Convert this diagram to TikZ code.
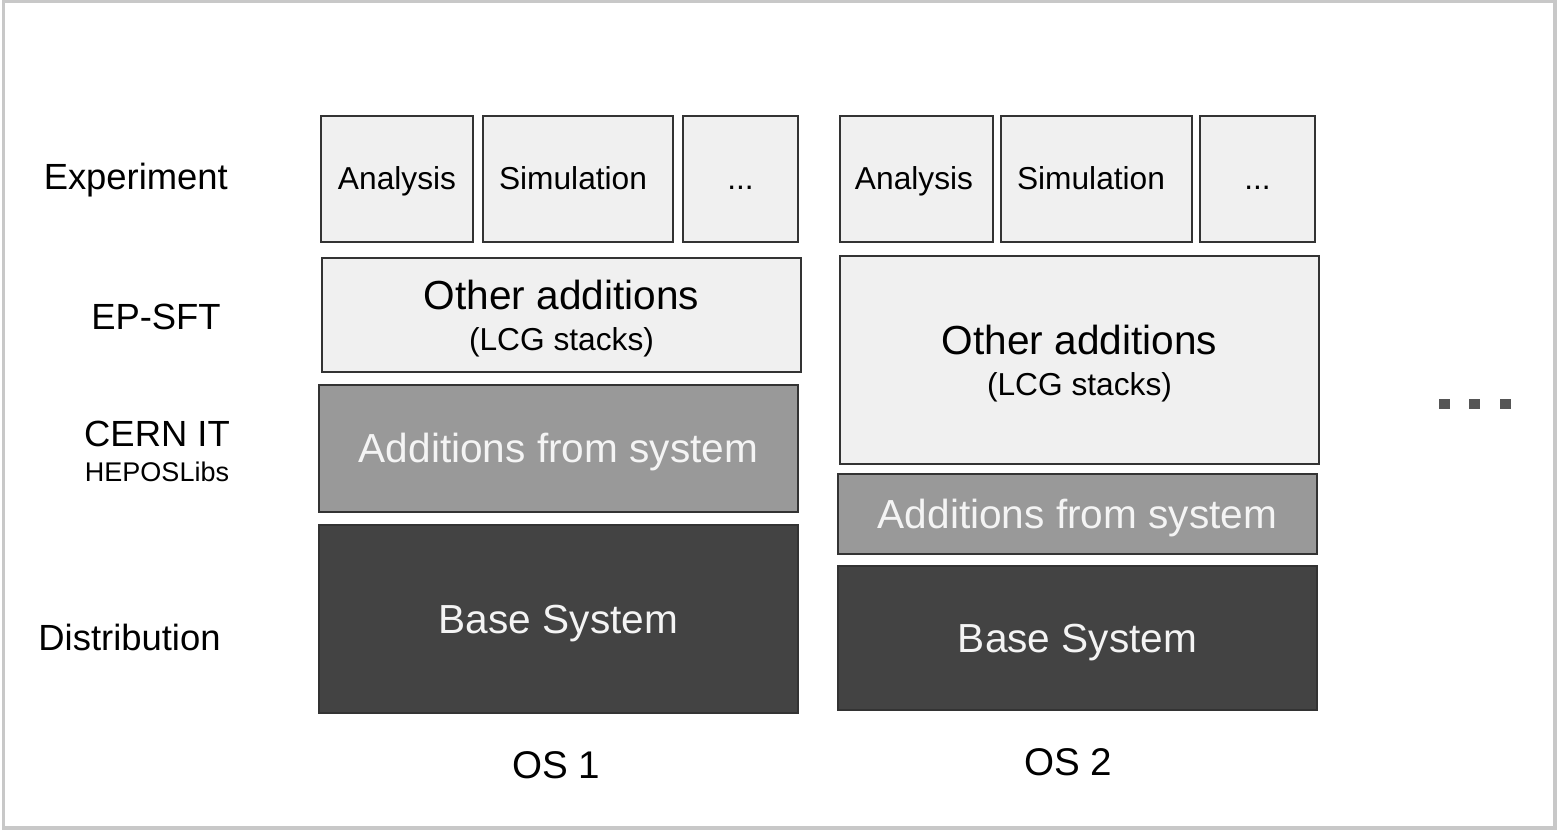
\documentclass[tikz,border=0pt]{standalone}
\usepackage{fontspec}
\setmainfont{Liberation Sans}
\definecolor{boxline}{HTML}{333333}
\definecolor{litefill}{HTML}{F0F0F0}
\definecolor{midfill}{HTML}{999999}
\definecolor{darkfill}{HTML}{434343}
\definecolor{frameline}{HTML}{C8C8C8}
\definecolor{dotfill}{HTML}{555555}
\definecolor{pale}{HTML}{F4F4F4}
\begin{document}
\begin{tikzpicture}[x=0.5pt,y=-0.5pt,
  layer/.style={draw=boxline, line width=1pt, inner sep=0pt, outer sep=0pt, align=center},
  lite/.style={layer, fill=litefill, text=black},
  midl/.style={layer, fill=midfill, text=pale},
  darkl/.style={layer, fill=darkfill, text=pale},
  smalltxt/.style={font=\fontsize{15.85}{19}\selectfont, text height=14.34pt, text depth=3.36pt},
  bigtxt/.style={font=\fontsize{20.3}{20.3}\selectfont, text height=18.37pt, text depth=4.3pt},
  twoline/.style={font=\fontsize{20.3}{20.3}\selectfont, text height=38.67pt, text depth=3.36pt},
  rowlabel/.style={anchor=base, font=\fontsize{18.2}{20}\selectfont, inner sep=0pt},
  oslabel/.style={anchor=base, font=\fontsize{19.3}{22}\selectfont, inner sep=0pt},
  dotsq/.style={fill=dotfill, inner sep=0pt, minimum width=5.5pt, minimum height=5pt}
]
\useasboundingbox (0,0) rectangle (1558,833);
% frame
\fill[frameline] (1.5,0.5) rectangle (1557,830);
\fill[white] (5,3.5) rectangle (1553,825.5);

% OS 1 column
\node[lite, smalltxt, minimum width=76pt, minimum height=63pt] (a1) at (397,179) {Analysis};
\node[lite, smalltxt, minimum width=95pt, minimum height=63pt] (s1) at (578,179) {Simulation\hspace*{5pt}};
\node[lite, smalltxt, minimum width=57.5pt, minimum height=63pt] (d1) at (740.5,179) {...};
\node[lite, twoline, minimum width=239.5pt, minimum height=57pt] (o1) at (561.5,315) {Other additions\\{\fontsize{15.85}{19}\selectfont (LCG stacks)}};
\node[midl, bigtxt, minimum width=239.5pt, minimum height=63.5pt] (f1) at (558.5,448.5) {Additions from system};
\node[darkl, bigtxt, minimum width=239.5pt, minimum height=94pt] (b1) at (558.5,619) {Base System};

% OS 2 column
\node[lite, smalltxt, minimum width=76.5pt, minimum height=63pt] (a2) at (916.5,179) {Analysis\hspace*{2.5pt}};
\node[lite, smalltxt, minimum width=95.5pt, minimum height=63pt] (s2) at (1096.5,179) {Simulation\hspace*{5.5pt}};
\node[lite, smalltxt, minimum width=57.5pt, minimum height=63pt] (d2) at (1257.5,179) {...};
\node[lite, twoline, minimum width=239.5pt, minimum height=104pt] (o2) at (1079.5,360) {Other additions\\{\fontsize{15.85}{19}\selectfont (LCG stacks)}};
\node[midl, bigtxt, minimum width=239.5pt, minimum height=40pt] (f2) at (1077.5,514) {Additions from system};
\node[darkl, bigtxt, minimum width=239.5pt, minimum height=72pt] (b2) at (1077.5,638) {Base System};

% row labels
\node[rowlabel] (lexp) at (135.8,190) {Experiment};
\node[rowlabel] (lep) at (156,330) {EP-SFT};
\node[rowlabel] (lcern) at (157,446.7) {CERN IT};
\node[rowlabel, font=\fontsize{13.5}{16}\selectfont] (lhep) at (157,481.7) {HEPOSLibs};
\node[rowlabel] (ldist) at (129.5,650) {Distribution};

% column labels
\node[oslabel] (os1) at (556.5,778) {OS 1};
\node[oslabel] (os2) at (1068,775) {OS 2};

% more columns
\node[dotsq] (m1) at (1444.5,404) {};
\node[dotsq] (m2) at (1474.5,404) {};
\node[dotsq] (m3) at (1505,404) {};
\end{tikzpicture}
\end{document}
